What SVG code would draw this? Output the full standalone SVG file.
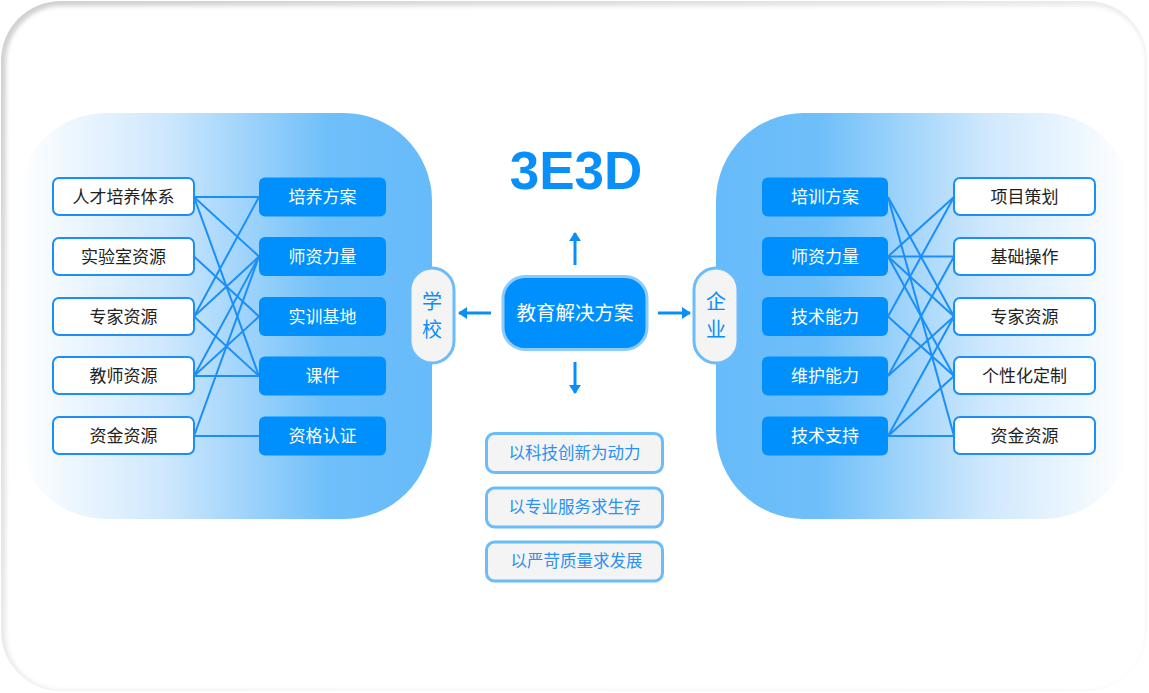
<svg xmlns="http://www.w3.org/2000/svg" width="1149" height="693" viewBox="0 0 1149 693">
<defs>
<linearGradient id="rim" x1="0" y1="0" x2="1" y2="1">
<stop offset="0" stop-color="#cfcfcf"/><stop offset="0.5" stop-color="#ececec"/><stop offset="1" stop-color="#f6f6f6"/>
</linearGradient>
<linearGradient id="gl" x1="18" y1="0" x2="432" y2="0" gradientUnits="userSpaceOnUse">
<stop offset="0" stop-color="#ffffff"/><stop offset="0.35" stop-color="#cfe8fd"/><stop offset="0.75" stop-color="#6fbff9"/><stop offset="1" stop-color="#66bbfa"/>
</linearGradient>
<linearGradient id="gr" x1="716" y1="0" x2="1131" y2="0" gradientUnits="userSpaceOnUse">
<stop offset="0" stop-color="#66bbfa"/><stop offset="0.25" stop-color="#6fbff9"/><stop offset="0.65" stop-color="#cfe8fd"/><stop offset="1" stop-color="#ffffff"/>
</linearGradient>
<filter id="soft" x="-5%" y="-5%" width="110%" height="110%"><feGaussianBlur stdDeviation="2"/></filter>
<marker id="ah" viewBox="0 0 9 12" refX="8" refY="6" markerWidth="9" markerHeight="12" markerUnits="userSpaceOnUse" orient="auto"><path d="M0,0 L9,6 L0,12 z" fill="#0a8ff8"/></marker>
<style>
.wb{fill:#ffffff;stroke:#1a8ffa;stroke-width:2}
.bb{fill:#0090fd}
.tw{font-family:"Noto Sans CJK SC","Liberation Sans",sans-serif;font-size:17px;fill:#222;text-anchor:middle;dominant-baseline:central}
.tb{font-family:"Noto Sans CJK SC","Liberation Sans",sans-serif;font-size:17px;fill:#ffffff;text-anchor:middle;dominant-baseline:central}
.ln{stroke:#1a8ffa;stroke-width:2;fill:none}
.ar{stroke:#0a8ff8;stroke-width:3;fill:none;marker-end:url(#ah)}
.pill{fill:#f4f4f4;stroke:#6bbcfb;stroke-width:3}
.pt{font-family:"Noto Sans CJK SC","Liberation Sans",sans-serif;font-size:20px;fill:#0a8ff8;text-anchor:middle;dominant-baseline:central}
.tag{fill:#f4f4f4;stroke:#6bbcfb;stroke-width:3}
.tt{font-family:"Noto Sans CJK SC","Liberation Sans",sans-serif;font-size:16.5px;fill:#2a90f2;text-anchor:middle;dominant-baseline:central}
</style>
</defs>
<g id="frame">
<rect x="1" y="1" width="1146" height="690" rx="60" fill="url(#rim)"/>
<rect x="6" y="6" width="1140" height="684" rx="56" fill="#ffffff" filter="url(#soft)"/>
</g>
<g id="panels">
<rect x="18" y="113" width="414" height="406" rx="88" fill="url(#gl)"/>
<rect x="716" y="113" width="415" height="406" rx="88" fill="url(#gr)"/>
</g>
<g id="connectors">
<line class="ln" x1="194" y1="197" x2="259" y2="197"/>
<line class="ln" x1="194" y1="197" x2="259" y2="256.5"/>
<line class="ln" x1="194" y1="197" x2="259" y2="376"/>
<line class="ln" x1="194" y1="256.5" x2="259" y2="316.5"/>
<line class="ln" x1="194" y1="316.5" x2="259" y2="197"/>
<line class="ln" x1="194" y1="316.5" x2="259" y2="256.5"/>
<line class="ln" x1="194" y1="316.5" x2="259" y2="376"/>
<line class="ln" x1="194" y1="376" x2="259" y2="256.5"/>
<line class="ln" x1="194" y1="376" x2="259" y2="316.5"/>
<line class="ln" x1="194" y1="376" x2="259" y2="376"/>
<line class="ln" x1="194" y1="436" x2="259" y2="256.5"/>
<line class="ln" x1="194" y1="436" x2="259" y2="436"/>
<line class="ln" x1="888" y1="197" x2="954" y2="316.5"/>
<line class="ln" x1="888" y1="197" x2="954" y2="436"/>
<line class="ln" x1="888" y1="256.5" x2="954" y2="197"/>
<line class="ln" x1="888" y1="256.5" x2="954" y2="256.5"/>
<line class="ln" x1="888" y1="256.5" x2="954" y2="316.5"/>
<line class="ln" x1="888" y1="256.5" x2="954" y2="376"/>
<line class="ln" x1="888" y1="316.5" x2="954" y2="197"/>
<line class="ln" x1="888" y1="316.5" x2="954" y2="376"/>
<line class="ln" x1="888" y1="376" x2="954" y2="256.5"/>
<line class="ln" x1="888" y1="376" x2="954" y2="316.5"/>
<line class="ln" x1="888" y1="436" x2="954" y2="316.5"/>
<line class="ln" x1="888" y1="436" x2="954" y2="376"/>
<line class="ln" x1="888" y1="436" x2="954" y2="436"/>
<line class="ar" x1="575" y1="265" x2="575" y2="233"/>
<line class="ar" x1="575" y1="362" x2="575" y2="393"/>
<line class="ar" x1="491" y1="313" x2="459" y2="313"/>
<line class="ar" x1="658" y1="313" x2="690" y2="313"/>
</g>
<g id="school-left">
<g id="l1"><rect class="wb" x="53" y="178" width="141" height="37" rx="6"/><text class="tw" x="123.5" y="195.5">人才培养体系</text></g>
<g id="l2"><rect class="wb" x="53" y="238" width="141" height="37" rx="6"/><text class="tw" x="123.5" y="255">实验室资源</text></g>
<g id="l3"><rect class="wb" x="53" y="298" width="141" height="37" rx="6"/><text class="tw" x="123.5" y="315">专家资源</text></g>
<g id="l4"><rect class="wb" x="53" y="357" width="141" height="37" rx="6"/><text class="tw" x="123.5" y="374.5">教师资源</text></g>
<g id="l5"><rect class="wb" x="53" y="417" width="141" height="37" rx="6"/><text class="tw" x="123.5" y="434.5">资金资源</text></g>
</g>
<g id="school-right">
<g id="lb1"><rect class="bb" x="259" y="177.5" width="127" height="39" rx="6"/><text class="tb" x="322.5" y="195.5">培养方案</text></g>
<g id="lb2"><rect class="bb" x="259" y="237" width="127" height="39" rx="6"/><text class="tb" x="322.5" y="255">师资力量</text></g>
<g id="lb3"><rect class="bb" x="259" y="297" width="127" height="39" rx="6"/><text class="tb" x="322.5" y="315">实训基地</text></g>
<g id="lb4"><rect class="bb" x="259" y="356.5" width="127" height="39" rx="6"/><text class="tb" x="322.5" y="374.5">课件</text></g>
<g id="lb5"><rect class="bb" x="259" y="416.5" width="127" height="39" rx="6"/><text class="tb" x="322.5" y="434.5">资格认证</text></g>
</g>
<g id="ent-left">
<g id="rb1"><rect class="bb" x="762" y="177.5" width="126" height="39" rx="6"/><text class="tb" x="825" y="195.5">培训方案</text></g>
<g id="rb2"><rect class="bb" x="762" y="237" width="126" height="39" rx="6"/><text class="tb" x="825" y="255">师资力量</text></g>
<g id="rb3"><rect class="bb" x="762" y="297" width="126" height="39" rx="6"/><text class="tb" x="825" y="315">技术能力</text></g>
<g id="rb4"><rect class="bb" x="762" y="356.5" width="126" height="39" rx="6"/><text class="tb" x="825" y="374.5">维护能力</text></g>
<g id="rb5"><rect class="bb" x="762" y="416.5" width="126" height="39" rx="6"/><text class="tb" x="825" y="434.5">技术支持</text></g>
</g>
<g id="ent-right">
<g id="r1"><rect class="wb" x="954" y="178" width="141" height="37" rx="6"/><text class="tw" x="1024.5" y="195.5">项目策划</text></g>
<g id="r2"><rect class="wb" x="954" y="238" width="141" height="37" rx="6"/><text class="tw" x="1024.5" y="255">基础操作</text></g>
<g id="r3"><rect class="wb" x="954" y="298" width="141" height="37" rx="6"/><text class="tw" x="1024.5" y="315">专家资源</text></g>
<g id="r4"><rect class="wb" x="954" y="357" width="141" height="37" rx="6"/><text class="tw" x="1024.5" y="374.5">个性化定制</text></g>
<g id="r5"><rect class="wb" x="954" y="417" width="141" height="37" rx="6"/><text class="tw" x="1024.5" y="434.5">资金资源</text></g>
</g>
<g id="title"><text x="576" y="189" font-family="Liberation Sans, Arial, sans-serif" font-weight="bold" font-size="53" fill="#0a8ff8" text-anchor="middle">3E3D</text></g>
<g id="center"><rect x="503" y="276.5" width="144" height="73" rx="22" fill="#0090fd" stroke="#8ccbfa" stroke-width="3"/><text x="575" y="311.5" font-family="Noto Sans CJK SC, Liberation Sans, sans-serif" font-size="19.5" fill="#ffffff" text-anchor="middle" dominant-baseline="central">教育解决方案</text></g>
<g id="school"><rect class="pill" x="410" y="268" width="44" height="95" rx="22"/><text class="pt" x="432" y="300">学</text><text class="pt" x="432" y="328">校</text></g>
<g id="enterprise"><rect class="pill" x="694" y="268" width="44" height="95" rx="22"/><text class="pt" x="716" y="300">企</text><text class="pt" x="716" y="328">业</text></g>
<g id="tag1"><rect class="tag" x="486.5" y="433.5" width="176" height="39" rx="8"/><text class="tt" x="574.5" y="451.5">以科技创新为动力</text></g>
<g id="tag2"><rect class="tag" x="486.5" y="488" width="176" height="39" rx="8"/><text class="tt" x="574.5" y="506">以专业服务求生存</text></g>
<g id="tag3"><rect class="tag" x="486.5" y="542" width="176" height="39" rx="8"/><text class="tt" x="576.5" y="560">以严苛质量求发展</text></g>
</svg>
